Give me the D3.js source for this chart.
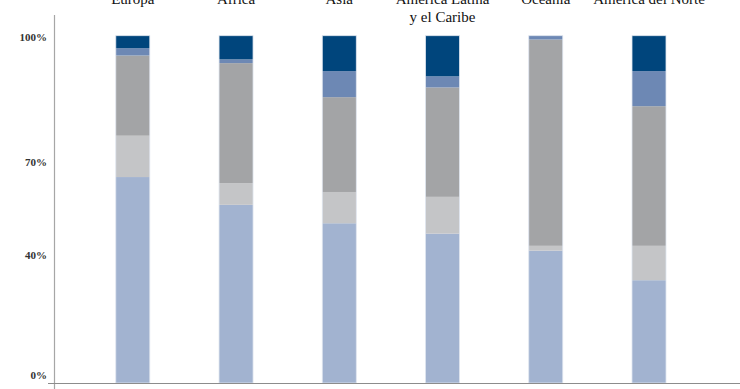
<!DOCTYPE html>
<html>
<head>
<meta charset="utf-8">
<script src="https://cdn.jsdelivr.net/npm/d3@7"></script>
<style>
  html, body { margin: 0; padding: 0; background: #fff; }
  svg { display: block; }
</style>
</head>
<body>
<div id="chart"></div>
<script>
// ---- data ----
const categories = ["Europa", "África", "Asia", "América Latina\ny el Caribe", "Oceanía", "América del Norte"];
const seriesNames = ["s1", "s2", "s3", "s4", "s5"];
const s1 = [0.593, 0.513, 0.460, 0.430, 0.381, 0.296]; // light blue (bottom)
const s2 = [0.119, 0.062, 0.090, 0.106, 0.014, 0.099]; // light gray
const s3 = [0.231, 0.346, 0.273, 0.315, 0.594, 0.402]; // dark gray
const s4 = [0.021, 0.011, 0.075, 0.032, 0.011, 0.101]; // mid blue
const s5 = [0.036, 0.068, 0.102, 0.117, 0.000, 0.102]; // dark blue (top)
const tickValues = [1, 0.7, 0.4, 0];
const tickLabels = ["100%", "70%", "40%", "0%"];

// ---- layout ----
const W = 740, H = 389;
const colors = ["#a2b3d0", "#c4c5c7", "#a3a4a6", "#6d88b4", "#00457c"];
const svg = d3.select("#chart").append("svg").attr("width", W).attr("height", H);

const x = d3.scalePoint().domain(categories).range([132.8, 649]);
const barW = 34;
const y = d3.scaleLinear().domain([0, 1]).range([383, 35.7]);
// tick labels in the original sit at fixed, uneven heights
const yLabel = d3.scaleLinear().domain([0, 0.4, 0.7, 1]).range([375, 255, 162.5, 36.7]);

const rows = categories.map((c, i) => ({cat: c, s1: s1[i], s2: s2[i], s3: s3[i], s4: s4[i], s5: s5[i]}));
const stacked = d3.stack().keys(seriesNames)(rows);

svg.append("g").selectAll("g").data(stacked).join("g")
  .attr("fill", (d, i) => colors[i])
  .selectAll("rect").data(d => d.filter(p => p[1] - p[0] > 0)).join("rect")
  .attr("x", d => x(d.data.cat) - barW / 2)
  .attr("width", barW)
  .attr("y", d => y(d[1]))
  .attr("height", d => y(d[0]) - y(d[1]));

// bar outline (faint light edge)
svg.append("g").selectAll("rect").data(categories).join("rect")
  .attr("x", d => x(d) - barW / 2)
  .attr("width", barW)
  .attr("y", y(1))
  .attr("height", y(0) - y(1))
  .attr("fill", "none")
  .attr("stroke", "#dfe5ef")
  .attr("stroke-width", 0.8);

// axes lines
svg.append("line").attr("x1", 54.5).attr("x2", 54.5).attr("y1", 15).attr("y2", 389)
  .attr("stroke", "#a6a6a6").attr("stroke-width", 1.2);
svg.append("line").attr("x1", 48).attr("x2", W).attr("y1", 383.5).attr("y2", 383.5)
  .attr("stroke", "#8c8c8c").attr("stroke-width", 1.2);

// y tick labels
svg.append("g").selectAll("text").data(tickValues).join("text")
  .attr("x", 47)
  .attr("y", d => yLabel(d))
  .attr("dy", "0.35em")
  .attr("text-anchor", "end")
  .attr("font-family", "Liberation Serif, serif")
  .attr("font-weight", "bold")
  .attr("font-size", 11)
  .attr("fill", "#333")
  .text((d, i) => tickLabels[i]);

// category labels at top
const cl = svg.append("g").selectAll("text").data(categories).join("text")
  .attr("x", d => x(d))
  .attr("y", 4)
  .attr("text-anchor", "middle")
  .attr("font-family", "Liberation Serif, serif")
  .attr("font-size", 15)
  .attr("fill", "#111");
cl.each(function(d) {
  const lines = d.split("\n");
  d3.select(this).selectAll("tspan").data(lines).join("tspan")
    .attr("x", x(d))
    .attr("dy", (l, i) => i === 0 ? 0 : 18)
    .text(l => l);
});
</script>
</body>
</html>
